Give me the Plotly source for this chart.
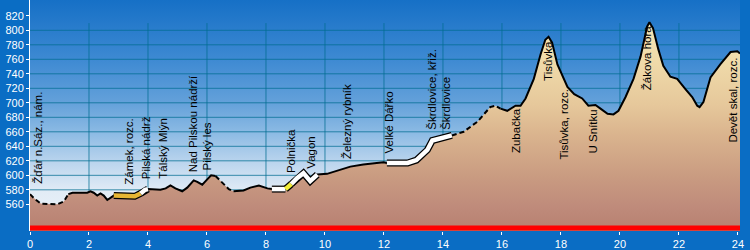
import numpy as np
import plotly.graph_objects as go

# ---- data ----
dist = [0.00, 0.12, 0.36, 0.70, 0.93, 1.15, 1.30, 1.44, 1.94, 2.05, 2.16, 2.28, 2.39, 2.50, 2.62,
        2.73, 2.84, 3.00, 3.30, 3.55, 3.75, 3.90, 4.00, 4.42, 4.60, 4.76, 4.93, 5.16, 5.33, 5.55,
        5.67, 5.84, 6.00, 6.14, 6.29, 6.51, 6.74, 6.90, 7.24, 7.47, 7.76, 8.05, 8.20, 8.66, 8.86,
        9.05, 9.27, 9.50, 9.74, 10.07, 10.42, 10.86, 11.30, 11.98, 12.10, 12.80, 13.10, 13.47, 13.64,
        14.00, 14.30, 14.70, 15.17, 15.60, 15.78, 15.95, 16.18, 16.46, 16.63, 16.80, 17.08, 17.31,
        17.47, 17.58, 17.70, 17.88, 18.05, 18.22, 18.45, 18.72, 18.93, 19.17, 19.34, 19.58, 19.78,
        19.95, 20.19, 20.46, 20.70, 20.92, 21.00, 21.12, 21.30, 21.47, 21.71, 21.94, 22.22, 22.45,
        22.62, 22.70, 22.83, 23.07, 23.40, 23.75, 23.98, 24.07]
elev = [574, 569, 561, 560, 560, 564, 574, 576, 576, 578, 576, 572, 575, 572, 566,
        569, 572, 572, 571, 571, 575, 580, 581, 580, 582, 586, 582, 578, 583, 593,
        591, 587, 594, 600, 599, 590, 581, 578, 579, 583, 586, 582, 581, 581, 588,
        596, 603, 592, 601, 602, 606, 612, 615, 618, 617, 617, 621, 635, 648,
        651, 655, 660, 674, 694, 696, 692, 689, 696, 696, 706, 733, 767,
        787, 791, 783, 753, 737, 722, 712, 706, 696, 697, 692, 685, 684,
        689, 708, 733, 764, 805, 811, 803, 774, 751, 736, 733, 719, 708,
        696, 694, 701, 735, 753, 770, 771, 768]

label_names = ["Žďár n.Sáz., nám.", "Zámek, rozc.", "Pilská nádrž", "Tálský Mlýn",
               "Nad Pilskou nádrží", "Pilský les", "Polnička", "Vagon", "Železný rybník",
               "Velké Dářko", "Škrdlovice, křiž.", "Škrdlovice", "Zubačka", "Tisůvka",
               "Tisůvka, rozc.", "U Snítku", "Žákova hora", "Devět skal, rozc."]
label_km = [0.29, 3.35, 3.92, 4.48, 5.53, 6.00, 8.83, 9.54, 10.77, 12.16, 13.64, 14.12,
            16.46, 17.54, 18.12, 19.10, 20.92, 23.84]
label_elev = [585, 584, 592, 592, 601, 604, 601, 607, 620, 627, 660, 660,
              628, 728, 619, 628, 714, 642]

dashed_parts = [(0.00, 1.30), (6.29, 6.90), (14.30, 15.95)]
road_parts = [(2.84, 3.75, "#e8b634"), (3.75, 4.00, "#ffffff"),
              (8.20, 8.66, "#ffffff"), (8.66, 8.86, "#f2ee3a"), (8.86, 9.74, "#ffffff"),
              (12.10, 14.30, "#ffffff")]

x_ticks = list(range(0, 25, 2))
y_ticks = list(range(560, 821, 20))

X0, X1 = 0.0, 24.07
Y0, Y1 = 523.2, 841.8
BAR = 527.3

d = np.array(dist)
e = np.array(elev)

fig = go.Figure()

# sky background
fig.add_trace(go.Scatter(
    x=[X0, X1, X1, X0, X0], y=[Y0 - 5, Y0 - 5, Y1 + 5, Y1 + 5, Y0 - 5],
    mode="lines", line=dict(width=0), fill="toself",
    fillgradient=dict(type="vertical", start=Y0, stop=Y1,
                      colorscale=[[0, "#eef4fa"], [0.18, "#e2ecf6"], [0.30, "#bdd6ee"],
                                  [0.43, "#8dbbe4"], [0.56, "#64a1da"], [0.75, "#3d89d2"],
                                  [1, "#1670c6"]]),
    hoverinfo="skip", showlegend=False))

# grid
gx, gy = [], []
for v in y_ticks:
    if 580 <= v <= 800:
        gx += [X0, X1, None]
        gy += [v, v, None]
for v in x_ticks:
    if 0 < v < 24:
        gx += [v, v, None]
        gy += [Y0, 810, None]
fig.add_trace(go.Scatter(x=gx, y=gy, mode="lines",
                         line=dict(color="rgba(0,110,145,0.75)", width=1),
                         hoverinfo="skip", showlegend=False))

# terrain
fig.add_trace(go.Scatter(
    x=list(d) + [X1, X0, X0], y=list(e) + [Y0 - 10, Y0 - 10, e[0]],
    mode="lines", line=dict(width=0), fill="toself",
    fillgradient=dict(type="vertical", start=Y0, stop=812,
                      colorscale=[[0, "#b67e6e"], [0.13, "#bf8b7b"], [0.27, "#c99b81"],
                                  [0.47, "#dab48e"], [0.61, "#e6c89b"], [0.82, "#f0dbaa"],
                                  [1, "#f6e8b8"]]),
    hoverinfo="skip", showlegend=False))

# red bar
fig.add_trace(go.Scatter(x=[X0, X1], y=[BAR, BAR], mode="lines",
                         line=dict(color="#ff0000", width=5),
                         hoverinfo="skip", showlegend=False))

# profile line: solid and dashed parts
def part(a, b):
    m = (d >= a - 1e-9) & (d <= b + 1e-9)
    return d[m], e[m]

bounds = sorted([p for seg in dashed_parts for p in seg] + [d[0], d[-1]])
bounds = sorted(set(bounds))
for a, b in zip(bounds[:-1], bounds[1:]):
    dashed = any(abs(a - s) < 1e-9 and abs(b - t) < 1e-9 for s, t in dashed_parts)
    xs, ys = part(a, b)
    fig.add_trace(go.Scatter(x=xs, y=ys, mode="lines",
                             line=dict(color="black", width=2,
                                       dash="5px,3px" if dashed else "solid"),
                             hoverinfo="skip", showlegend=False))

# road highlights
for a, b, col in road_parts:
    xs, ys = part(a, b)
    fig.add_trace(go.Scatter(x=xs, y=ys, mode="lines",
                             line=dict(color="black", width=7),
                             hoverinfo="skip", showlegend=False))
for a, b, col in road_parts:
    xs, ys = part(a, b)
    fig.add_trace(go.Scatter(x=xs, y=ys, mode="lines",
                             line=dict(color=col, width=4.5),
                             hoverinfo="skip", showlegend=False))

for name, xk, yk in zip(label_names, label_km, label_elev):
    fig.add_annotation(x=xk, y=yk, text=name, showarrow=False, textangle=-90,
                       xanchor="center", yanchor="bottom",
                       font=dict(family="Liberation Sans, Arial", size=11.5, color="black"))

fig.update_layout(
    width=750, height=250,
    margin=dict(l=30, r=10, t=0, b=16),
    paper_bgcolor="#0a6dc4", plot_bgcolor="#0a6dc4",
    showlegend=False,
    xaxis=dict(range=[X0, X1], tickvals=x_ticks, showgrid=False, zeroline=False,
               ticks="outside", ticklen=3, tickcolor="white", showline=False,
               tickfont=dict(family="Liberation Sans, Arial", size=11, color="white")),
    yaxis=dict(range=[Y0, Y1], tickvals=y_ticks, showgrid=False, zeroline=False,
               ticks="outside", ticklen=3, tickcolor="white",
               showline=True, linecolor="white", linewidth=1,
               tickfont=dict(family="Liberation Sans, Arial", size=11, color="white")),
)

fig.write_html("out.html")
